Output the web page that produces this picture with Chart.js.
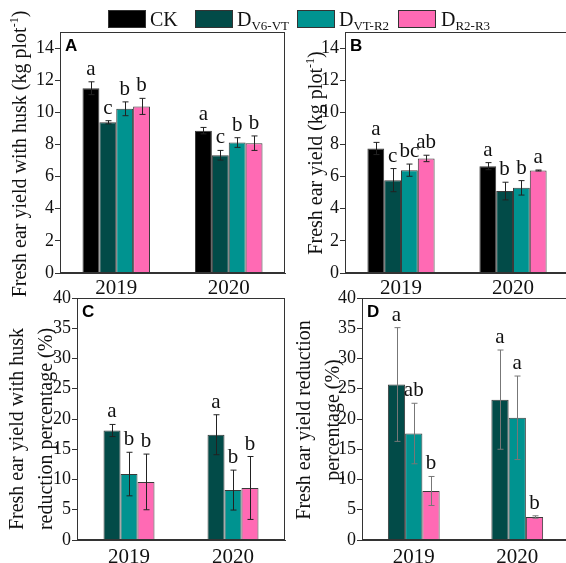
<!DOCTYPE html>
<html>
<head>
<meta charset="utf-8">
<script src="https://cdn.jsdelivr.net/npm/chart.js@4.4.1/dist/chart.umd.min.js"></script>
<style>
  body { margin: 0; width: 566px; height: 563px; overflow: hidden; background: #fff; position: relative; }
  .panel { position: absolute; }
  .serif { font-family: 'Liberation Serif', 'Times New Roman', serif; color: #111; }
  .box { position: absolute; width: 38px; height: 18px; border: 1px solid #333; box-sizing: border-box; }
  .lab { position: absolute; font-size: 20px; line-height: 20px; white-space: nowrap; }
  .lab sub { font-size: 13px; vertical-align: -4px; }
  .ytitle { position: absolute; font-size: 20px; line-height: 29px; text-align: center; white-space: nowrap; transform: rotate(-90deg); }
  .ytitle sup { font-size: 12px; vertical-align: 8px; }
</style>
</head>
<body>
<div class="panel" style="left:0;top:0;"><canvas id="chartA" width="290" height="300"></canvas></div>
<div class="panel" style="left:290px;top:0;"><canvas id="chartB" width="290" height="300"></canvas></div>
<div class="panel" style="left:0;top:280px;"><canvas id="chartC" width="290" height="290"></canvas></div>
<div class="panel" style="left:290px;top:280px;"><canvas id="chartD" width="290" height="290"></canvas></div>

<div class="box" style="left:108px;top:10px;background:#000;"></div>
<div class="lab serif" style="left:150px;top:9px;">CK</div>
<div class="box" style="left:195px;top:10px;background:#024b48;"></div>
<div class="lab serif" style="left:237px;top:9px;">D<sub>V6-VT</sub></div>
<div class="box" style="left:297px;top:10px;background:#009390;"></div>
<div class="lab serif" style="left:339px;top:9px;">D<sub>VT-R2</sub></div>
<div class="box" style="left:398px;top:10px;background:#ff6ab4;"></div>
<div class="lab serif" style="left:441px;top:9px;">D<sub>R2-R3</sub></div>

<div class="ytitle serif" style="left:-143px;top:137px;width:320px;">Fresh ear yield with husk (kg plot<sup>-1</sup>)</div>
<div class="ytitle serif" style="left:173px;top:136px;width:280px;">Fresh ear yield (kg plot<sup>-1</sup>)</div>
<div class="ytitle serif" style="left:-109px;top:400px;width:280px;">Fresh ear yield with husk<br>reduction percentage (%)</div>
<div class="ytitle serif" style="left:178px;top:391px;width:280px;">Fresh ear yield reduction<br>percentage (%)</div>

<script>
const years = ['2019', '2020'];
const seriesNames = ['CK', 'D V6-VT', 'D VT-R2', 'D R2-R3'];
const seriesColors = ['#000000', '#024b48', '#009390', '#ff6ab4'];
const yieldTicks = [0, 2, 4, 6, 8, 10, 12, 14];
const pctTicks = [0, 5, 10, 15, 20, 25, 30, 35, 40];

// A: fresh ear yield with husk (kg plot-1)
const aCK = [11.5, 8.86], aCKErr = [0.4, 0.2], aCKLet = ['a', 'a'];
const aV6 = [9.38, 7.33], aV6Err = [0.1, 0.3], aV6Let = ['c', 'c'];
const aVT = [10.22, 8.12], aVTErr = [0.43, 0.3], aVTLet = ['b', 'b'];
const aR2 = [10.37, 8.08], aR2Err = [0.5, 0.45], aR2Let = ['b', 'b'];

// B: fresh ear yield (kg plot-1)
const bCK = [7.75, 6.65], bCKErr = [0.38, 0.22], bCKLet = ['a', 'a'];
const bV6 = [5.78, 5.1], bV6Err = [0.72, 0.55], bV6Let = ['c', 'b'];
const bVT = [6.4, 5.3], bVTErr = [0.38, 0.45], bVTLet = ['bc', 'b'];
const bR2 = [7.13, 6.38], bR2Err = [0.2, 0.03], bR2Let = ['ab', 'a'];

// C: fresh ear yield with husk reduction percentage (%)
const cV6 = [18.1, 17.4], cV6Err = [1.0, 3.3], cV6Let = ['a', 'a'];
const cVT = [10.9, 8.25], cVTErr = [3.6, 3.3], cVTLet = ['b', 'b'];
const cR2 = [9.6, 8.6], cR2Err = [4.6, 5.2], cR2Let = ['b', 'b'];

// D: fresh ear yield reduction percentage (%)
const dV6 = [25.7, 23.2], dV6Err = [9.4, 8.2], dV6Let = ['a', 'a'];
const dVT = [17.6, 20.2], dVTErr = [5.0, 6.9], dVTLet = ['ab', 'a'];
const dR2 = [8.1, 3.8], dR2Err = [2.4, 0.2], dR2Let = ['b', 'b'];

const serif = 'Liberation Serif';

const extras = {
  id: 'extras',
  afterDatasetsDraw(chart, args, opts) {
    const ctx = chart.ctx;
    const y = chart.scales.y;
    ctx.save();
    chart.data.datasets.forEach((ds, i) => {
      const meta = chart.getDatasetMeta(i);
      meta.data.forEach((bar, j) => {
        const v = ds.data[j], e = ds.err[j];
        const yt = y.getPixelForValue(v + e), yb = y.getPixelForValue(v - e);
        const x = Math.round(bar.x) + 0.5;
        ctx.strokeStyle = opts.errColor;
        ctx.lineWidth = 1;
        ctx.beginPath();
        ctx.moveTo(x, yt); ctx.lineTo(x, yb);
        ctx.moveTo(x - 3, yt); ctx.lineTo(x + 3, yt);
        ctx.moveTo(x - 3, yb); ctx.lineTo(x + 3, yb);
        ctx.stroke();
        ctx.fillStyle = '#111';
        ctx.font = '21px "' + serif + '"';
        ctx.textAlign = 'center';
        ctx.textBaseline = 'alphabetic';
        ctx.fillText(ds.letters[j], bar.x, yt - 7);
      });
    });
    const a = chart.chartArea;
    ctx.strokeStyle = '#333';
    ctx.lineWidth = 1;
    ctx.strokeRect(a.left + 0.5, a.top + 0.5, a.right - a.left - 1, a.bottom - a.top - 1);
    ctx.fillStyle = '#000';
    ctx.font = 'bold 17px "Liberation Sans"';
    ctx.textAlign = 'left';
    ctx.textBaseline = 'top';
    ctx.fillText(opts.tag, a.left + 5, a.top + 6);
    ctx.restore();
  }
};

function makeSet(idx, data, err, letters) {
  return {
    label: seriesNames[idx],
    data: data,
    err: err,
    letters: letters,
    backgroundColor: seriesColors[idx],
    borderColor: '#3a3a3a',
    borderWidth: 1
  };
}

function makeChart(id, tag, sets, cfg) {
  return new Chart(document.getElementById(id), {
    type: 'bar',
    data: {
      labels: years,
      datasets: sets.map(s => Object.assign(s, { categoryPercentage: cfg.catPct, barPercentage: 1 }))
    },
    options: {
      responsive: false,
      animation: false,
      devicePixelRatio: 1,
      layout: { padding: { top: cfg.top, right: cfg.right, left: 0, bottom: 0 } },
      plugins: {
        legend: { display: false },
        tooltip: { enabled: false },
        extras: { tag: tag, errColor: cfg.errColor }
      },
      scales: {
        x: {
          grid: { display: false, drawTicks: false },
          border: { display: true, color: '#333' },
          ticks: { color: '#111', font: { family: serif, size: 21 }, padding: cfg.xPad },
          afterFit: s => { s.height = cfg.xh; }
        },
        y: {
          min: 0,
          max: cfg.max,
          grid: { drawOnChartArea: false, tickLength: 5, color: '#333' },
          border: { display: true, color: '#333' },
          ticks: { color: '#111', font: { family: serif, size: 18 }, padding: 1 },
          afterBuildTicks: s => { s.ticks = cfg.ticks.map(v => ({ value: v })); },
          afterFit: s => { s.width = cfg.yw; }
        }
      }
    },
    plugins: [extras]
  });
}

makeChart('chartA', 'A', [
  makeSet(0, aCK, aCKErr, aCKLet),
  makeSet(1, aV6, aV6Err, aV6Let),
  makeSet(2, aVT, aVTErr, aVTLet),
  makeSet(3, aR2, aR2Err, aR2Let)
], { catPct: 0.6, top: 32, right: 5, yw: 60, xh: 27, xPad: 3, max: 15, ticks: yieldTicks, errColor: '#222' });

makeChart('chartB', 'B', [
  makeSet(0, bCK, bCKErr, bCKLet),
  makeSet(1, bV6, bV6Err, bV6Let),
  makeSet(2, bVT, bVTErr, bVTLet),
  makeSet(3, bR2, bR2Err, bR2Let)
], { catPct: 0.6, top: 32, right: 11, yw: 55, xh: 27, xPad: 3, max: 15, ticks: yieldTicks, errColor: '#222' });

makeChart('chartC', 'C', [
  makeSet(1, cV6, cV6Err, cV6Let),
  makeSet(2, cVT, cVTErr, cVTLet),
  makeSet(3, cR2, cR2Err, cR2Let)
], { catPct: 0.49, top: 18, right: 5, yw: 77, xh: 30, xPad: 5, max: 40, ticks: pctTicks, errColor: '#222' });

makeChart('chartD', 'D', [
  makeSet(1, dV6, dV6Err, dV6Let),
  makeSet(2, dVT, dVTErr, dVTLet),
  makeSet(3, dR2, dR2Err, dR2Let)
], { catPct: 0.5, top: 18, right: 11, yw: 72, xh: 30, xPad: 5, max: 40, ticks: pctTicks, errColor: '#777' });
</script>
</body>
</html>
